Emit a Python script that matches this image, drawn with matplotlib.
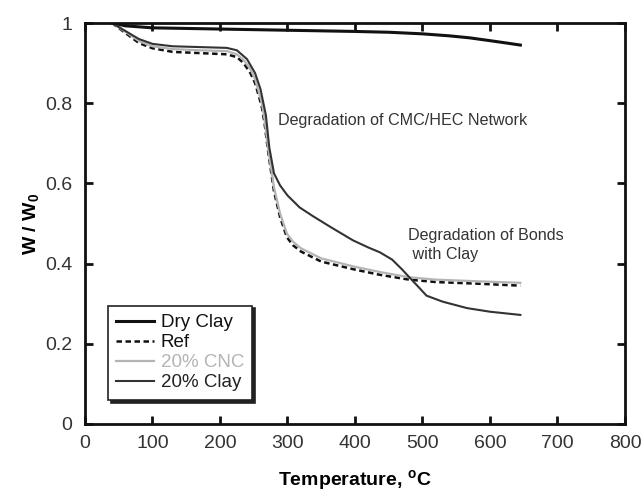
import matplotlib
matplotlib.use("Agg")
import matplotlib.pyplot as plt
import numpy as np

plt.rcParams['font.family'] = ['Liberation Sans', 'DejaVu Sans']

# Temperature (°C) and normalized weight W/W0
t_dry = [40, 60, 100, 200, 300, 400, 450, 500, 540, 570, 600, 625, 645]
w_dry = [1.0, 0.993, 0.988, 0.985, 0.982, 0.979, 0.977, 0.973, 0.968, 0.963, 0.956, 0.95, 0.945]

t_ref = [40, 60, 80, 100, 130, 170, 210, 225, 235, 245, 252, 258, 262, 266, 271, 280, 289, 299, 308, 320, 350, 400, 437, 480, 520, 580, 645]
w_ref = [1.0, 0.975, 0.95, 0.937, 0.928, 0.925, 0.922, 0.915, 0.90, 0.875, 0.85, 0.815, 0.79, 0.75, 0.683, 0.58, 0.516, 0.466, 0.446, 0.43, 0.405, 0.385, 0.372, 0.36, 0.354, 0.35, 0.345]

t_cnc = [40, 60, 80, 100, 130, 170, 210, 225, 235, 245, 252, 258, 262, 266, 271, 280, 289, 299, 308, 320, 350, 400, 437, 480, 520, 580, 645]
w_cnc = [1.0, 0.978, 0.955, 0.942, 0.935, 0.932, 0.93, 0.922, 0.908, 0.885, 0.86, 0.825, 0.80, 0.76, 0.69, 0.59, 0.525, 0.475, 0.455, 0.438, 0.413, 0.392, 0.379, 0.366, 0.36, 0.356, 0.352]

t_clay = [40, 60, 80, 100, 130, 170, 210, 225, 240, 252, 260, 268, 273, 280, 289, 300, 318, 338, 365, 397, 420, 437, 455, 470, 481, 495, 506, 530, 566, 600, 645]
w_clay = [1.0, 0.98, 0.96, 0.948, 0.942, 0.94, 0.938, 0.932, 0.91, 0.875, 0.835, 0.77, 0.69, 0.625, 0.595, 0.57, 0.54, 0.518, 0.49, 0.458, 0.44, 0.428, 0.41, 0.385, 0.365, 0.34, 0.32, 0.305, 0.289, 0.28, 0.272]

x_ticks = [0, 100, 200, 300, 400, 500, 600, 700, 800]
y_ticks = [0, 0.2, 0.4, 0.6, 0.8, 1.0]
y_labels = ['0', '0.2', '0.4', '0.6', '0.8', '1']

fig = plt.figure(figsize=(6.42, 4.93), dpi=100)
ax = fig.add_axes([0.1324, 0.140, 0.8411, 0.8133])

ax.plot(t_dry, w_dry, color='#111111', lw=2.2, label='Dry Clay')
ax.plot(t_ref, w_ref, color='#111111', lw=1.8, ls=(0, (2.2, 1.4)), label='Ref')
ax.plot(t_cnc, w_cnc, color='#b4b4b4', lw=1.6, label='20% CNC')
ax.plot(t_clay, w_clay, color='#333333', lw=1.5, label='20% Clay')

ax.set_xlim(0, 800)
ax.set_ylim(0, 1)
ax.set_xticks(x_ticks)
ax.set_yticks(y_ticks)
ax.set_yticklabels(y_labels)
ax.tick_params(direction='in', length=6, width=2, labelsize=14, colors='#111111',
               top=True, right=True, labelcolor='#333333')
ax.tick_params(axis='x', pad=8)
ax.tick_params(axis='y', pad=9)
for s in ax.spines.values():
    s.set_linewidth(2)
    s.set_color('#111111')

ax.set_xlabel('Temperature, $^{\\mathregular{o}}$C', fontsize=14, fontweight='bold', labelpad=12)
ax.set_ylabel('W / W$_\\mathregular{0}$', fontsize=14, fontweight='bold', labelpad=2)

ax.text(286, 0.746, 'Degradation of CMC/HEC Network', fontsize=11.6, color='#333333',
        va='baseline', ha='left')
ax.text(478, 0.459, 'Degradation of Bonds', fontsize=11.6, color='#333333',
        va='baseline', ha='left')
ax.text(478, 0.411, ' with Clay', fontsize=11.6, color='#333333',
        va='baseline', ha='left')

leg = ax.legend(loc='lower left', bbox_to_anchor=(0.0426, 0.06), fontsize=13.5,
                frameon=True, fancybox=False, shadow={'color': '#222222', 'alpha': 1},
                handlelength=2.0, handletextpad=0.35, labelspacing=0.16,
                borderpad=0.45, borderaxespad=0)
leg.get_frame().set_edgecolor('#222222')
leg.get_frame().set_linewidth(1.2)
txt_colors = ['#111111', '#111111', '#b4b4b4', '#222222']
for t, c in zip(leg.get_texts(), txt_colors):
    t.set_color(c)

fig.savefig('out.png', dpi=100)
